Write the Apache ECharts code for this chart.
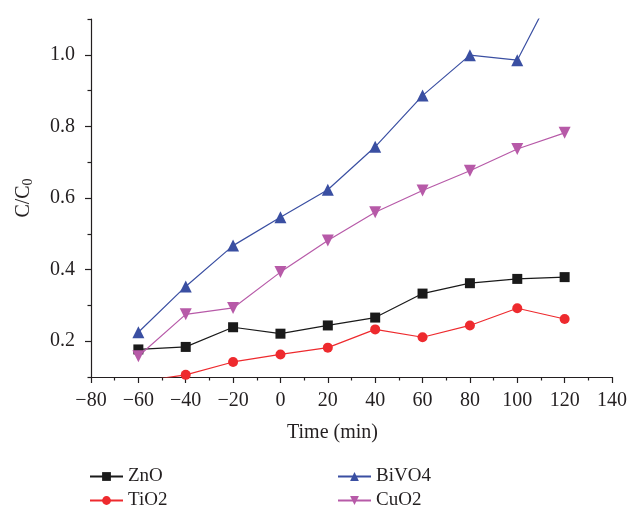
<!DOCTYPE html>
<html>
<head>
<meta charset="utf-8">
<script src="https://cdn.jsdelivr.net/npm/echarts@6/dist/echarts.min.js"></script>
<style>html,body{margin:0;padding:0;background:#fff}#c{width:630px;height:508px}</style>
</head>
<body>
<div id="c"></div>
<script>
const times = [-60, -40, -20, 0, 20, 40, 60, 80, 100, 120];
const ZnO   = [0.177, 0.184, 0.239, 0.221, 0.244, 0.266, 0.333, 0.362, 0.374, 0.379];
const TiO2  = [0.087, 0.106, 0.142, 0.163, 0.182, 0.233, 0.211, 0.244, 0.292, 0.262];
const BiVO4 = [0.225, 0.353, 0.467, 0.546, 0.623, 0.743, 0.886, 0.999, 0.985, 1.24];
const CuO2  = [0.158, 0.275, 0.293, 0.393, 0.481, 0.560, 0.621, 0.676, 0.737, 0.782];
const yMajor = [0.2, 0.4, 0.6, 0.8, 1.0];
const yMinor = [0.1, 0.3, 0.5, 0.7, 0.9, 1.1];

const pair = arr => times.map((t, i) => [t, arr[i]]);
const font = 'Liberation Serif';
const txt = '#231f20';

const mk = (name, data, color, symbol, size, rot) => ({
  name, type: 'line', data: pair(data), symbol, symbolSize: size, symbolRotate: rot || 0,
  lineStyle: { color, width: 1.2 }, itemStyle: { color }, clip: true, z: 3
});

const chart = echarts.init(document.getElementById('c'));
chart.setOption({
  animation: false,
  grid: { left: 91, right: 17, top: 19, bottom: 131 },
  xAxis: {
    type: 'value', min: -80, max: 140, interval: 20,
    name: 'Time (min)', nameLocation: 'middle', nameGap: 46,
    nameTextStyle: { fontFamily: font, fontSize: 20, color: txt, padding: [0, 38, 0, 0] },
    axisLine: { onZero: false, lineStyle: { color: txt, width: 1.2 } },
    axisTick: { length: 6, lineStyle: { color: txt, width: 1.2 } },
    minorTick: { show: true, splitNumber: 2, length: 3.5, lineStyle: { color: txt, width: 1.2 } },
    axisLabel: { fontFamily: font, fontSize: 20, color: txt, margin: 14,
      formatter: v => String(v).replace('-', '\u2212') },
    splitLine: { show: false }
  },
  yAxis: [{
    type: 'value', min: 0.1, max: 1.1, interval: 0.1,
    name: '{m|C/C}{s|0}', nameLocation: 'middle', nameGap: 56, nameRotate: 90,
    nameTextStyle: { fontFamily: font, fontSize: 20, color: txt,
      rich: { m: { fontFamily: font, fontSize: 20, color: txt },
              s: { fontFamily: font, fontSize: 14, color: txt, verticalAlign: 'bottom', padding: [8, 0, 0, 0] } } },
    axisLine: { show: true, onZero: false, lineStyle: { color: txt, width: 1.2 } },
    axisTick: { length: 6, customValues: yMajor, lineStyle: { color: txt, width: 1.2 } },
    axisLabel: { fontFamily: font, fontSize: 20, color: txt, margin: 16, customValues: yMajor,
      formatter: v => v.toFixed(1) },
    splitLine: { show: false }
  }, {
    type: 'value', min: 0.1, max: 1.1, interval: 0.1, position: 'left',
    axisLine: { show: false, onZero: false },
    axisTick: { show: true, length: 3.5, customValues: yMinor, lineStyle: { color: txt, width: 1.2 } },
    axisLabel: { show: false },
    splitLine: { show: false }
  }],
  legend: [{
    data: ['ZnO', 'TiO2'], orient: 'vertical', left: 84, top: 462, height: 46,
    itemWidth: 33, itemHeight: 11, itemGap: 5,
    textStyle: { fontFamily: font, fontSize: 19, color: txt }
  }, {
    data: ['BiVO4', 'CuO2'], orient: 'vertical', left: 332, top: 462, height: 46,
    itemWidth: 33, itemHeight: 11, itemGap: 5,
    textStyle: { fontFamily: font, fontSize: 19, color: txt }
  }],
  series: [
    mk('ZnO', ZnO, '#1a1a1a', 'rect', 10),
    mk('TiO2', TiO2, '#ee2a2e', 'circle', 10),
    mk('BiVO4', BiVO4, '#3a4fa2', 'triangle', 12),
    mk('CuO2', CuO2, '#b75aa8', 'triangle', 12, 180)
  ]
});
</script>
</body>
</html>
